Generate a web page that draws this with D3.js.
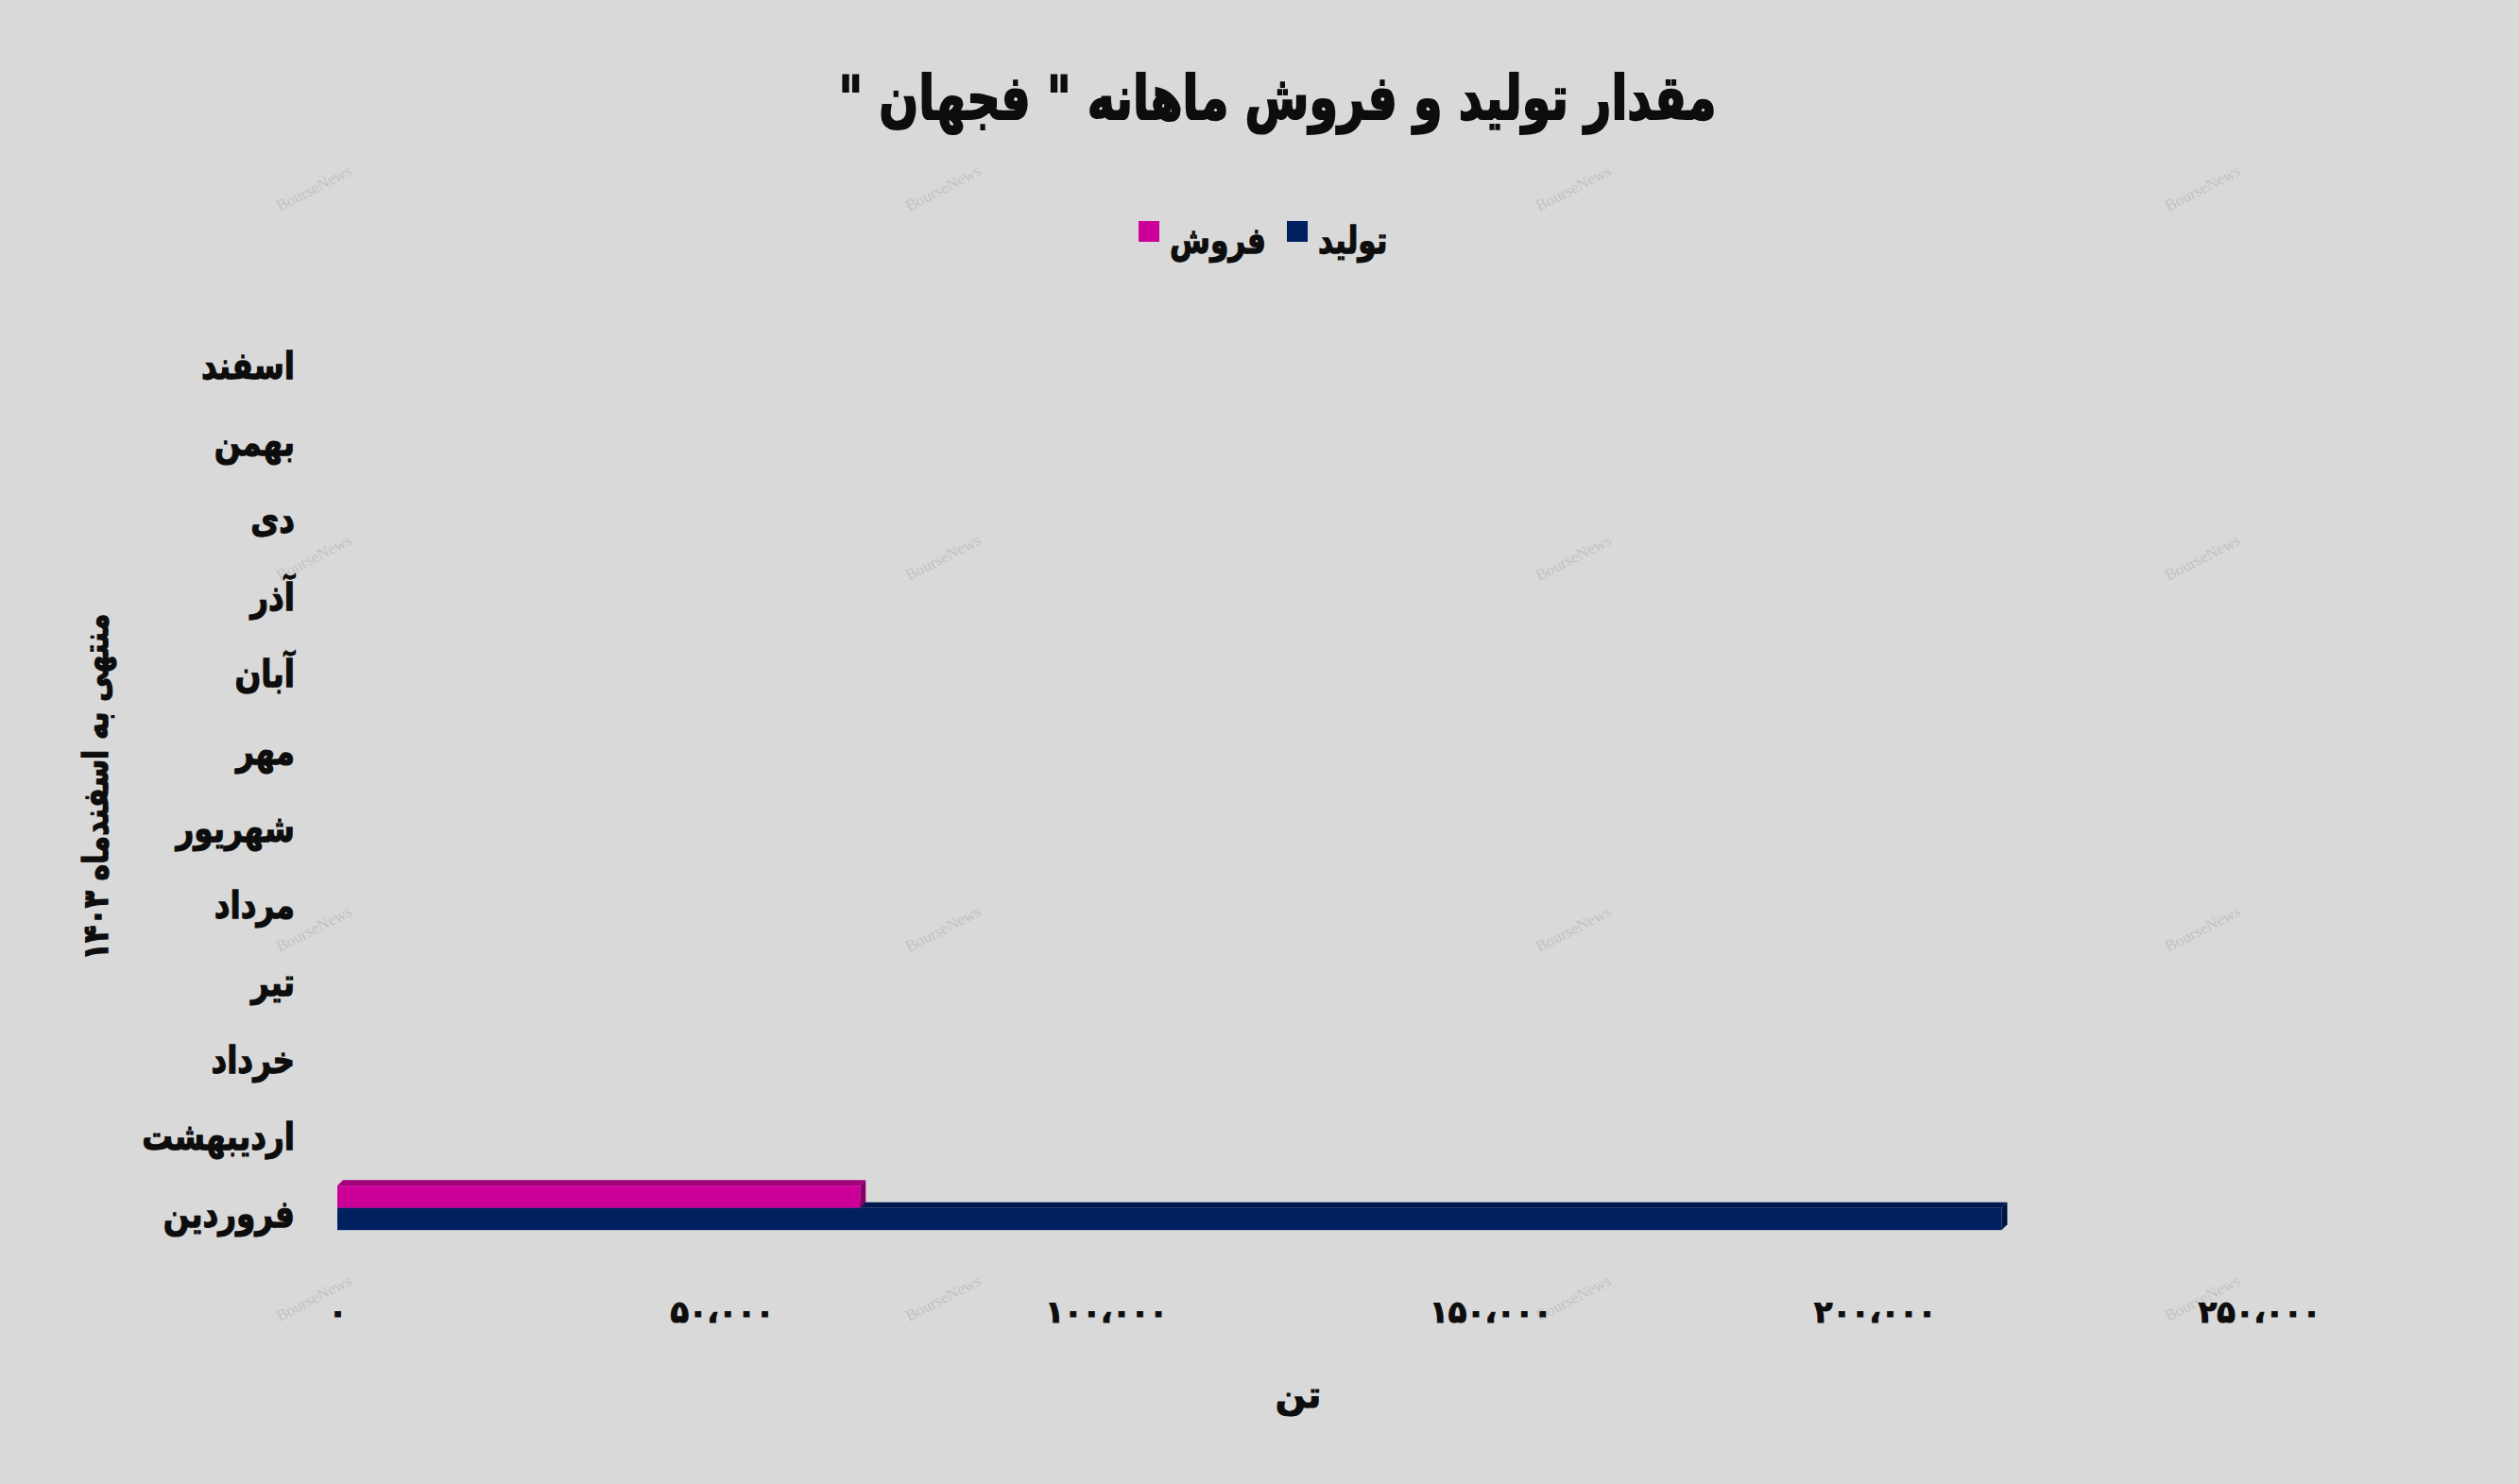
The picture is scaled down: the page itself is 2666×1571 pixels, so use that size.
<!DOCTYPE html>
<html><head><meta charset="utf-8">
<script src="https://cdn.jsdelivr.net/npm/d3@7"></script>
<style>
html,body{margin:0;padding:0;background:#d9d9d9;}
svg{display:block;}
text{font-family:"DejaVu Sans",sans-serif;font-weight:bold;}
</style></head>
<body>
<script>
// ---- data ----
const months = ["فروردین","اردیبهشت","خرداد","تیر","مرداد","شهریور","مهر","آبان","آذر","دی","بهمن","اسفند"];
const production = [216500, null, null, null, null, null, null, null, null, null, null, null];
const sales = [68000, null, null, null, null, null, null, null, null, null, null, null];
const seriesNames = ["فروش","تولید"];
const xTicks = [0, 50000, 100000, 150000, 200000, 250000];
const titleText = 'مقدار تولید و فروش ماهانه " فجهان "';
const yTitle = "منتهی به اسفندماه ۱۴۰۳";
const xTitle = "تن";

const W = 2666, H = 1571;
const svg = d3.select("body").append("svg").attr("width", W).attr("height", H);
svg.append("rect").attr("width", W).attr("height", H).attr("fill", "#d9d9d9");

// watermarks
const wmX = [332, 998, 1665, 2331], wmY = [199, 590, 983, 1374];
wmY.forEach(yy => wmX.forEach(xx => {
  svg.append("text").attr("transform", `translate(${xx},${yy}) rotate(-27)`)
    .attr("text-anchor", "middle").attr("dy", "0.35em")
    .style("font-family", "'Liberation Serif',serif").style("font-weight", "normal")
    .attr("font-size", 17).attr("fill", "#c2c2c2").text("BourseNews");
}));

const toFa = s => s.replace(/[0-9]/g, d => "۰۱۲۳۴۵۶۷۸۹"[+d]).replace(/,/g, "،");
const ink = "#0d0d0d";
const heavy = sel => sel.attr("fill", ink).attr("stroke", ink).attr("stroke-width", 1.2).attr("paint-order", "stroke");

const x = d3.scaleLinear().domain([0, 250000]).range([357, 2391]);
const y = d3.scaleBand().domain(months).range([1328, 348]);
const ys = d3.scaleBand().domain(seriesNames).range([-32, 15]);
const colors = {
  "تولید": {front: "#002060", top: "#001a4f", side: "#001640"},
  "فروش": {front: "#cc0099", top: "#a3007b", side: "#87006a"}
};
const depth = 6;

// title
heavy(svg.append("text").attr("transform", "translate(1352,126) scale(0.82,1.08)").attr("text-anchor", "middle")
  .attr("direction", "rtl").attr("font-size", 60).text(titleText)).attr("stroke-width", 2);

// legend
const legendItems = [{name: "فروش", sx: 1205, tx: 1238}, {name: "تولید", sx: 1362, tx: 1395}];
legendItems.forEach(it => {
  svg.append("rect").attr("x", it.sx).attr("y", 234).attr("width", 22).attr("height", 22)
    .attr("fill", colors[it.name].front);
  heavy(svg.append("text").attr("transform", `translate(${it.tx},268) scale(0.84,1.05)`).attr("font-size", 37)
    .text(it.name));
});

// bars (3D)
const rows = months.map((m, i) => ({m, "تولید": production[i], "فروش": sales[i]}));
const drawOrder = ["تولید", "فروش"];
drawOrder.forEach(s => {
  rows.filter(r => r[s] != null).forEach(r => {
    const yc = y(r.m) + y.bandwidth() / 2;
    const y0 = yc + ys(s), h = ys.bandwidth();
    const x0 = x(0), x1 = x(r[s]);
    const g = svg.append("g");
    g.append("path").attr("d", `M${x0},${y0} L${x0 + depth},${y0 - depth} L${x1 + depth},${y0 - depth} L${x1},${y0} Z`)
      .attr("fill", colors[s].top);
    g.append("path").attr("d", `M${x1},${y0} L${x1 + depth},${y0 - depth} L${x1 + depth},${y0 + h - depth} L${x1},${y0 + h} Z`)
      .attr("fill", colors[s].side);
    g.append("rect").attr("x", x0).attr("y", y0).attr("width", x1 - x0).attr("height", h)
      .attr("fill", colors[s].front);
  });
});

// x axis
const xAxis = svg.append("g").attr("transform", "translate(0,1377)")
  .call(d3.axisBottom(x).tickValues(xTicks).tickSize(0).tickPadding(0)
    .tickFormat(d => toFa(d3.format(",")(d))));
xAxis.select(".domain").remove();
heavy(xAxis.selectAll("text").attr("font-size", 32)
  .style("font-family", "'DejaVu Sans',sans-serif").style("font-weight", "bold"));

// y axis
const yAxis = svg.append("g").attr("transform", "translate(312,0)")
  .call(d3.axisLeft(y).tickSize(0).tickPadding(0));
yAxis.select(".domain").remove();
heavy(yAxis.selectAll("text").attr("font-size", 38).attr("dy", "0.3em")
  .attr("transform", "scale(0.86,1.05)")
  .style("font-family", "'DejaVu Sans',sans-serif").style("font-weight", "bold"));

// axis titles
heavy(svg.append("text").attr("transform", "translate(114,833) rotate(-90) scale(0.86,1.05)").attr("text-anchor", "middle")
  .attr("direction", "rtl").attr("font-size", 35).text(yTitle));
heavy(svg.append("text").attr("x", 1374).attr("y", 1490).attr("text-anchor", "middle")
  .attr("font-size", 38).text(xTitle));
</script>
</body></html>
